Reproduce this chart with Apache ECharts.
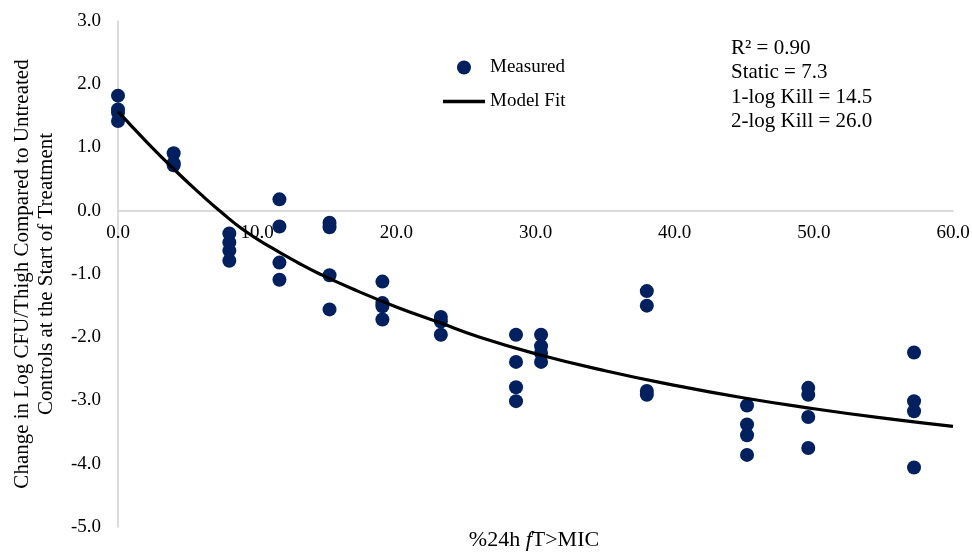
<!DOCTYPE html>
<html>
<head>
<meta charset="utf-8">
<title>%24h fT>MIC vs change in log CFU/thigh</title>
<script src="https://cdn.jsdelivr.net/npm/echarts@6/dist/echarts.min.js"></script>
<style>
  html, body { margin: 0; padding: 0; background: #ffffff; }
  #chart { width: 972px; height: 555px; }
</style>
</head>
<body>
<div id="chart"></div>
<script>
// Measured values: exposure (%24h fT>MIC) and change in log CFU/thigh
const measuredX = [
  0, 0, 0, 0,
  4.0, 4.0, 4.0,
  8.0, 8.0, 8.0, 8.0,
  11.6, 11.6, 11.6, 11.6,
  15.2, 15.2, 15.2, 15.2,
  19.0, 19.0, 19.0, 19.0,
  23.2, 23.2, 23.2,
  28.6, 28.6, 28.6, 28.6,
  30.4, 30.4, 30.4, 30.4,
  38.0, 38.0, 38.0, 38.0,
  45.2, 45.2, 45.2, 45.2,
  49.6, 49.6, 49.6, 49.6,
  57.2, 57.2, 57.2, 57.2
];
const measuredY = [
  1.82, 1.60, 1.55, 1.42,
  0.91, 0.75, 0.72,
  -0.36, -0.50, -0.63, -0.79,
  0.18, -0.25, -0.82, -1.09,
  -0.19, -0.26, -1.02, -1.56,
  -1.12, -1.46, -1.51, -1.72,
  -1.68, -1.75, -1.96,
  -1.96, -2.39, -2.79, -3.01,
  -1.96, -2.14, -2.25, -2.39,
  -1.27, -1.50, -2.85, -2.91,
  -3.08, -3.38, -3.55, -3.86,
  -2.80, -2.91, -3.26, -3.75,
  -2.24, -3.01, -3.17, -4.06
];

// Model fit curve, sampled along the exposure range
const fitX = [0, 2, 4, 6, 7.3, 9, 11, 13, 14.5, 17, 20, 23, 26, 30, 35, 40, 45, 50, 55, 60];
const fitY = [1.57, 1.10, 0.66, 0.25, 0.0, -0.30, -0.58, -0.83, -1.0, -1.25, -1.52, -1.76, -2.0, -2.26, -2.53, -2.76, -2.96, -3.13, -3.28, -3.41];

// Axis ranges
const xTicks = { min: 0, max: 60, step: 10 };
const yTicks = { min: -5, max: 3, step: 1 };

// Fit summary
const statLines = ['R\u00B2 = 0.90', 'Static = 7.3', '1-log Kill = 14.5', '2-log Kill = 26.0'];

const FONT = '"Liberation Serif", "DejaVu Serif", serif';
const NAVY = '#002060';

const W = 972, H = 555;
const GRID = { left: 118, right: 19, top: 21, bottom: 28 };
// Lift the x axis (line and labels) so it sits on y = 0
const plotH = H - GRID.top - GRID.bottom;
const zeroLift = plotH * (0 - yTicks.min) / (yTicks.max - yTicks.min);

const chart = echarts.init(document.getElementById('chart'), null, { renderer: 'canvas' });

const measuredData = measuredX.map((x, i) => [x, measuredY[i]]);
const fitData = fitX.map((x, i) => [x, fitY[i]]);

chart.setOption({
  animation: false,
  backgroundColor: '#ffffff',
  textStyle: { fontFamily: FONT, color: '#000000' },
  grid: {
    left: GRID.left, right: GRID.right, top: GRID.top, bottom: GRID.bottom,
    containLabel: false, outerBoundsMode: 'none'
  },
  legend: {
    orient: 'vertical',
    left: 443,
    top: 58,
    padding: 0,
    itemWidth: 42,
    itemHeight: 14,
    itemGap: 15,
    textStyle: { fontFamily: FONT, fontSize: 19, color: '#000000' },
    data: [
      { name: 'Measured', icon: 'circle' },
      { name: 'Model Fit', icon: 'path://M0,0H42V3.4H0Z' }
    ]
  },
  xAxis: {
    type: 'value',
    min: xTicks.min,
    max: xTicks.max,
    interval: xTicks.step,
    position: 'bottom',
    offset: -zeroLift,
    axisLine: { show: true, onZero: false, lineStyle: { color: '#d0d0d0', width: 1.5 } },
    axisTick: { show: false },
    splitLine: { show: false },
    axisLabel: {
      margin: 13,
      fontFamily: FONT,
      fontSize: 19,
      color: '#000000',
      formatter: v => v.toFixed(1)
    }
  },
  yAxis: {
    type: 'value',
    min: yTicks.min,
    max: yTicks.max,
    interval: yTicks.step,
    axisLine: { show: true, lineStyle: { color: '#d0d0d0', width: 1.5 } },
    axisTick: { show: false },
    splitLine: { show: false },
    axisLabel: {
      margin: 17,
      fontFamily: FONT,
      fontSize: 19,
      color: '#000000',
      formatter: v => v.toFixed(1)
    },
    name: 'Change in Log CFU/Thigh Compared to Untreated\nControls at the Start of Treatment',
    nameLocation: 'middle',
    nameGap: 60,
    nameRotate: 90,
    nameTextStyle: { fontFamily: FONT, fontSize: 21, color: '#000000', lineHeight: 24 }
  },
  series: [
    {
      name: 'Measured',
      type: 'scatter',
      data: measuredData,
      symbol: 'circle',
      symbolSize: 14,
      itemStyle: { color: NAVY, opacity: 1 },
      z: 3
    },
    {
      name: 'Model Fit',
      type: 'line',
      data: fitData,
      smooth: 0.5,
      showSymbol: false,
      symbol: 'none',
      lineStyle: { color: '#000000', width: 3.2 },
      itemStyle: { color: '#000000' },
      z: 4
    }
  ],
  graphic: [
    {
      type: 'text',
      left: 731,
      top: 36,
      style: {
        text: statLines.join('\n'),
        fontFamily: FONT,
        fontSize: 21,
        lineHeight: 24.5,
        fill: '#000000'
      }
    },
    {
      type: 'text',
      x: 534,
      y: 540,
      style: {
        text: '{a|%24h }{i|f}{a|T>MIC}',
        align: 'center',
        verticalAlign: 'middle',
        rich: {
          a: { fontFamily: FONT, fontSize: 22, fill: '#000000' },
          i: { fontFamily: FONT, fontSize: 22, fontStyle: 'italic', fill: '#000000' }
        }
      }
    }
  ]
});
</script>
</body>
</html>
